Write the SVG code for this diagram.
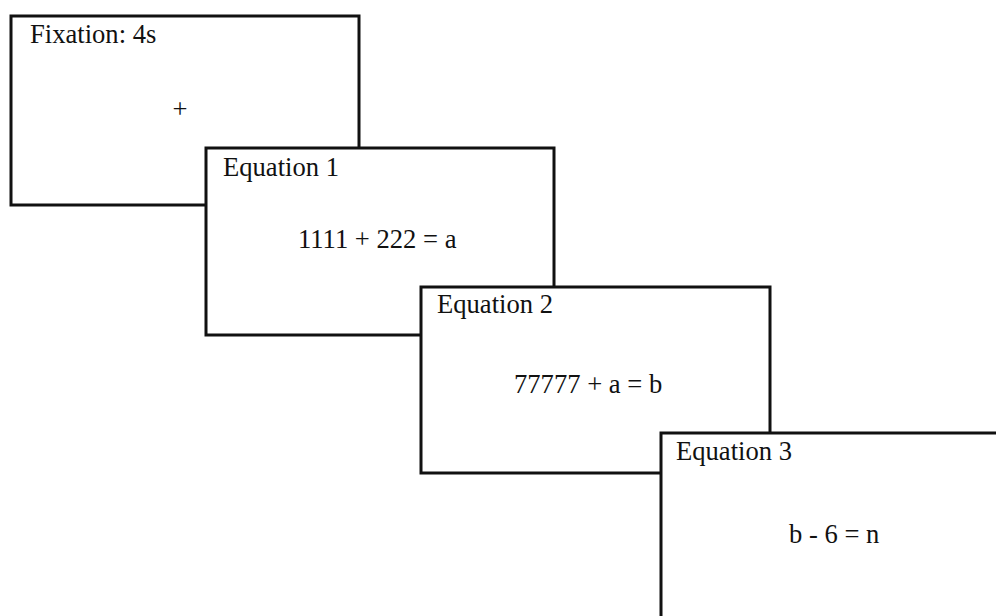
<svg xmlns="http://www.w3.org/2000/svg" width="996" height="616" viewBox="0 0 996 616">
<style>
.box{fill:#fff;stroke:#111;stroke-width:3}
.t{font-family:"Liberation Serif","Times New Roman",serif;font-size:26.6px;fill:#111}
</style>
<rect width="996" height="616" fill="#fff"/>
<g id="connectors"></g>
<g id="fixation">
<rect class="box" x="11" y="16" width="348" height="189"/>
<text class="t" x="30" y="43">Fixation: 4s</text>
<text class="t" x="180" y="117.5" text-anchor="middle">+</text>
</g>
<g id="equation1">
<rect class="box" x="206" y="148" width="348" height="187"/>
<text class="t" x="223" y="176">Equation 1</text>
<text class="t" x="298" y="248">1111 + 222 = a</text>
</g>
<g id="equation2">
<rect class="box" x="421" y="287" width="349" height="186"/>
<text class="t" x="437" y="313">Equation 2</text>
<text class="t" x="514" y="393">77777 + a = b</text>
</g>
<g id="equation3">
<rect class="box" x="661" y="433" width="400" height="300"/>
<text class="t" x="676" y="460">Equation 3</text>
<text class="t" x="789" y="543">b - 6 = n</text>
</g>
</svg>
